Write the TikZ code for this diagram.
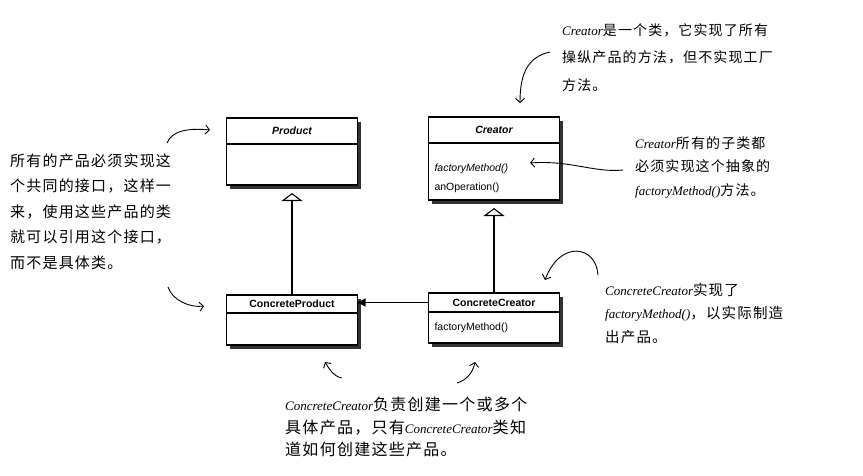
\documentclass[tikz,border=0pt]{standalone}
\usepackage{fontspec}
\setmainfont{Liberation Sans}
\newfontfamily\hand[LetterSpace=8]{Noto Sans CJK SC}
\newfontfamily\handlat{Liberation Serif}
\newcommand{\latn}[1]{{\handlat\itshape\fontsize{13}{\baselineskip}\selectfont #1}}
\usetikzlibrary{positioning,shadows,arrows.meta}
\tikzset{%
	shadowed/.style = {drop shadow={shadow xshift=3.5pt, shadow yshift=-3.5pt,
		fill=black!80, opacity=1}}, % box shadow
	clstitle/.style = {draw, line width=1.2pt, fill=white, rectangle, outer sep=0pt,
		minimum width=131pt, font=\fontsize{10.5}{12}\selectfont\bfseries, shadowed},
	clsbody/.style  = {draw, line width=1.2pt, fill=white, rectangle, outer sep=0pt,
		minimum width=131pt, text width=119pt, align=left,
		font=\fontsize{10.5}{19}\selectfont, shadowed},
	inherit/.style  = {line width=1.1pt, -{Triangle[open, length=8pt, width=21pt]},
		shorten >=8pt}, % generalisation
	assoc/.style    = {line width=1.3pt, -{Triangle[length=8pt, width=8pt]}},
	annot/.style    = {align=left, inner sep=0pt, anchor=north west}, % notes
	remark/.style   = {line width=0.9pt, -{Straight Barb[length=4pt, width=9pt]}}
}

\begin{document}
\begin{tikzpicture}[x=1pt,y=-1pt]
	\useasboundingbox (0,0) rectangle (863,475);

	% classes
	\node[clstitle, font=\fontsize{10.5}{12}\selectfont\bfseries\itshape, minimum height=26pt, anchor=north] (prodT) at (292,118) {Product};
	\node[clsbody, minimum height=41pt, below=0pt of prodT] (prodB) {};
	\node[clstitle, font=\fontsize{10.5}{12}\selectfont\bfseries\itshape, minimum height=26pt, anchor=north] (creatT) at (494,117) {Creator};
	\node[clsbody, minimum height=57pt, below=0pt of creatT] (creatB) {\rule{0pt}{22pt}\textit{factoryMethod()}\\anOperation()};
	\node[clstitle, minimum height=18pt, anchor=north] (cprodT) at (292,295) {ConcreteProduct};
	\node[clsbody, minimum height=32pt, below=0pt of cprodT] (cprodB) {};
	\node[clstitle, minimum height=19pt, anchor=north] (ccreatT) at (494,293) {ConcreteCreator};
	\node[clsbody, minimum height=31pt, below=0pt of ccreatT] (ccreatB) {factoryMethod()};

	\draw[inherit] (cprodT) -- (prodB);
	\draw[inherit] (ccreatT) -- (creatB);
	\draw[assoc] (ccreatT.west) -- (ccreatT.west -| cprodT.east);

	% notes
	\node[annot, font=\hand\fontsize{14}{27.5}\selectfont] (creatNote) at (562,23)
		{\latn{Creator}是一个类，它实现了所有\\操纵产品的方法，但不实现工厂\\方法。};
	\node[annot, font=\hand\fontsize{14}{23.5}\selectfont] (abstrNote) at (635,136)
		{\latn{Creator}所有的子类都\\必须实现这个抽象的\\\latn{factoryMethod()}方法。};
	\node[annot, font=\hand\fontsize{15}{25.5}\selectfont] (prodNote) at (10,153.5)
		{所有的产品必须实现这\\个共同的接口，这样一\\来，使用这些产品的类\\就可以引用这个接口，\\而不是具体类。};
	\node[annot, font=\hand\fontsize{14.5}{23.5}\selectfont] (implNote) at (605,282.75)
		{\latn{ConcreteCreator}实现了\\\latn{factoryMethod()}，以实际制造\\出产品。};
	\node[annot, font=\hand\fontsize{16}{22.5}\selectfont] (makeNote) at (285,397)
		{\latn{ConcreteCreator}负责创建一个或多个\\具体产品，只有\latn{ConcreteCreator}类知\\道如何创建这些产品。};

	% note arrows
	\coordinate (creatFrom) at (550,52);   \coordinate (creatTo) at (520,103);
	\coordinate (abstrFrom) at (623,170);  \coordinate (abstrTo) at (530,163);
	\coordinate (prodFrom) at (167,143);   \coordinate (prodTo) at (210,130);
	\coordinate (cprodFrom) at (168,287);  \coordinate (cprodTo) at (204,306);
	\coordinate (makeFromA) at (342,378);  \coordinate (makeToA) at (325,362);
	\coordinate (makeFromB) at (457,383);  \coordinate (makeToB) at (475,362);
	\coordinate (implFrom) at (598,275);   \coordinate (implTo) at (545,280);

	\draw[remark] (creatFrom) .. controls +(-22,5) and +(0,-30) .. (creatTo);
	\draw[remark] (abstrFrom) .. controls (595,173) and (570,160) .. (abstrTo);
	\draw[remark] (prodFrom) .. controls (172,130) and (190,128) .. (prodTo);
	\draw[remark] (cprodFrom) .. controls (172,300) and (190,308) .. (cprodTo);
	\draw[remark] (makeFromA) .. controls (333,376) and (330,370) .. (makeToA);
	\draw[remark] (makeFromB) .. controls (467,380) and (473,372) .. (makeToB);
	\draw[remark] (implFrom) .. controls (596,245) and (560,240) .. (implTo);
\end{tikzpicture}
\end{document}
